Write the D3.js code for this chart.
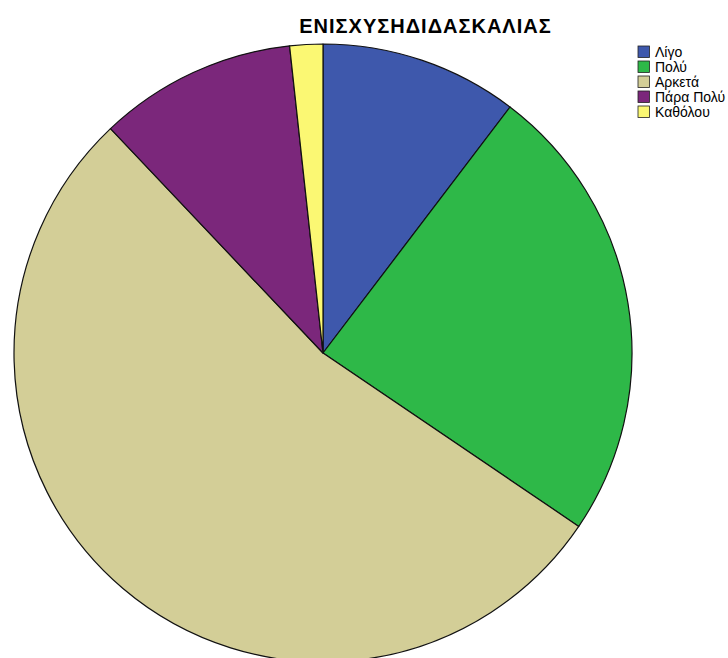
<!DOCTYPE html>
<html>
<head>
<meta charset="utf-8">
<script src="https://cdn.jsdelivr.net/npm/d3@7"></script>
<style>
  body { margin: 0; background: #fff; }
  svg { display: block; }
</style>
</head>
<body>
<div id="chart-container"></div>
<script>
// Data
const titleText = "ΕΝΙΣΧΥΣΗΔΙΔΑΣΚΑΛΙΑΣ";
const categories = ["Λίγο", "Πολύ", "Αρκετά", "Πάρα Πολύ", "Καθόλου"];
const counts = [6, 14, 31, 6, 1];
const colors = ["#3e58ac", "#2eb848", "#d3ce97", "#7b277b", "#fbf873"];

const width = 728, height = 658;
const cx = 323, cy = 353, radius = 309;

const svg = d3.select("#chart-container").append("svg")
    .attr("width", width)
    .attr("height", height);

// Title
svg.append("text")
    .attr("x", 425.5)
    .attr("y", 32.5)
    .attr("text-anchor", "middle")
    .style("font-family", "Arial, 'Liberation Sans', sans-serif")
    .style("font-size", "20px")
    .style("font-weight", "bold")
    .style("letter-spacing", "1px")
    .text(titleText);

// Pie, starting at 12 o'clock going clockwise
const data = categories.map((c, i) => ({cat: c, value: counts[i], color: colors[i]}));
const pie = d3.pie().sort(null).value(d => d.value);
const arc = d3.arc().innerRadius(0).outerRadius(radius);

const g = svg.append("g")
    .attr("transform", `translate(${cx}, ${cy})`);

g.selectAll("path")
    .data(pie(data))
    .enter().append("path")
    .attr("d", arc)
    .attr("fill", d => d.data.color)
    .attr("stroke", "#111")
    .attr("stroke-width", 1.2)
    .attr("stroke-linejoin", "round");

// Legend
const legend = svg.append("g")
    .attr("transform", "translate(638, 46)");

const rows = legend.selectAll("g")
    .data(data)
    .enter().append("g")
    .attr("transform", (d, i) => `translate(0, ${i * 15})`);

rows.append("rect")
    .attr("width", 11.5)
    .attr("height", 11.5)
    .attr("fill", d => d.color)
    .attr("stroke", "#222")
    .attr("stroke-width", 0.8);

rows.append("text")
    .attr("x", 17)
    .attr("y", 11.3)
    .style("font-family", "Arial, 'Liberation Sans', sans-serif")
    .style("font-size", "14px")
    .text(d => d.cat);
</script>
</body>
</html>
